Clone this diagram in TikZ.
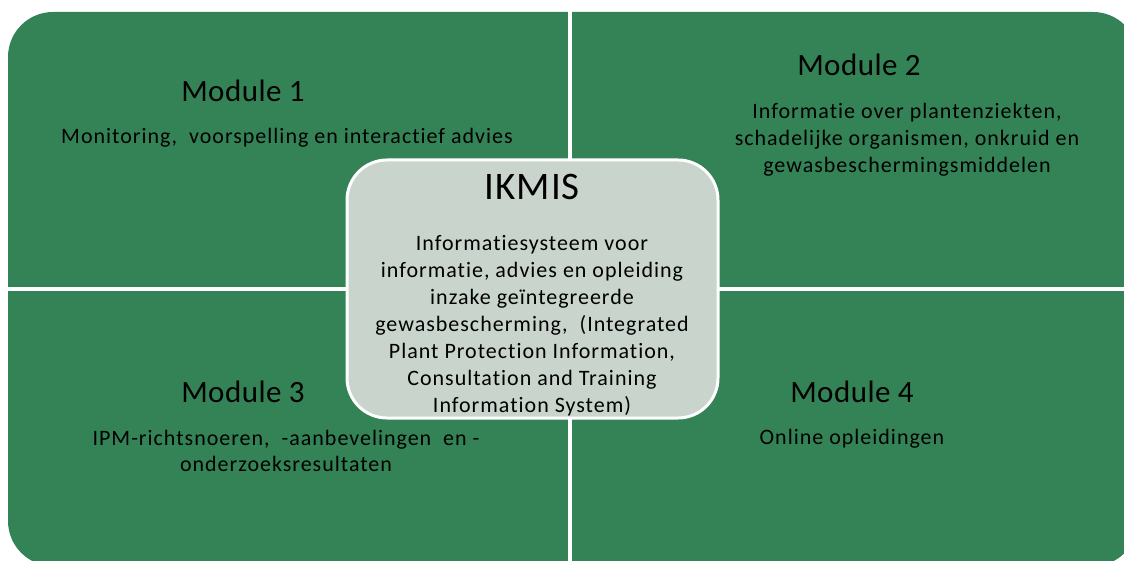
\documentclass[tikz,border=0pt]{standalone}
\usepackage{fontspec}
\setmainfont{Carlito}[RawFeature={-liga}]
\newfontfamily\spacedfont[LetterSpace=4.5,RawFeature={-liga}]{Carlito}
\newfontfamily\titlefont[LetterSpace=1.5,RawFeature={-liga}]{Carlito}
\newfontfamily\hubfont[LetterSpace=3,RawFeature={-liga}]{Carlito}
\definecolor{modgreen}{RGB}{52,131,86}
\definecolor{hubfill}{RGB}{201,213,204}
\begin{document}
\begin{tikzpicture}[x=1pt,y=-1pt,
  modtitle/.style={anchor=base, inner sep=0pt, font=\titlefont\fontsize{31}{37}\selectfont},
  modbody/.style={anchor=base, inner sep=0pt, align=center, font=\spacedfont\fontsize{22}{27}\selectfont},
  hubbox/.style={draw=white, line width=3pt, fill=hubfill, rounded corners=40pt,
    minimum width=371pt, minimum height=258pt, inner sep=0pt},
]
\useasboundingbox (0,0) rectangle (1124,561);
\clip (0,0) rectangle (1124,561);
\fill[modgreen, rounded corners=45pt] (8,12) rectangle (1138,566);
\draw[white, line width=4pt] (570,0) -- (570,570);
\draw[white, line width=4pt] (0,289) -- (1140,289);
\node[hubbox] (hub) at (532.5,289) {};
\node[anchor=base, inner sep=0pt, font=\hubfont\fontsize{39}{45}\selectfont] (hubtitle) at (532,200) {IKMIS};
\node[modbody] (hubtext) at (532,412) {Informatiesysteem voor\\informatie, advies en opleiding\\inzake geïntegreerde\\gewasbescherming,\ \ (Integrated\\Plant Protection Information,\\Consultation and Training\\Information System)};
\node[modtitle] (m1) at (243,102) {Module 1};
\node[modbody] (t1) at (287,144) {Monitoring,\ \ voorspelling en interactief advies};
\node[modtitle] (m2) at (859,76) {Module 2};
\node[modbody, font=\spacedfont\fontsize{22}{27.2}\selectfont] (t2) at (907,172.7) {Informatie over plantenziekten,\\schadelijke organismen, onkruid en\\gewasbeschermingsmiddelen};
\node[modtitle] (m3) at (243,402) {Module 3};
\node[modbody, font=\spacedfont\fontsize{22}{26}\selectfont] (t3) at (286,471) {IPM-richtsnoeren,\ \ -aanbevelingen\ \ en -\\onderzoeksresultaten};
\node[modtitle] (m4) at (852,402) {Module 4};
\node[modbody] (t4) at (852,444) {Online opleidingen};
\end{tikzpicture}
\end{document}
